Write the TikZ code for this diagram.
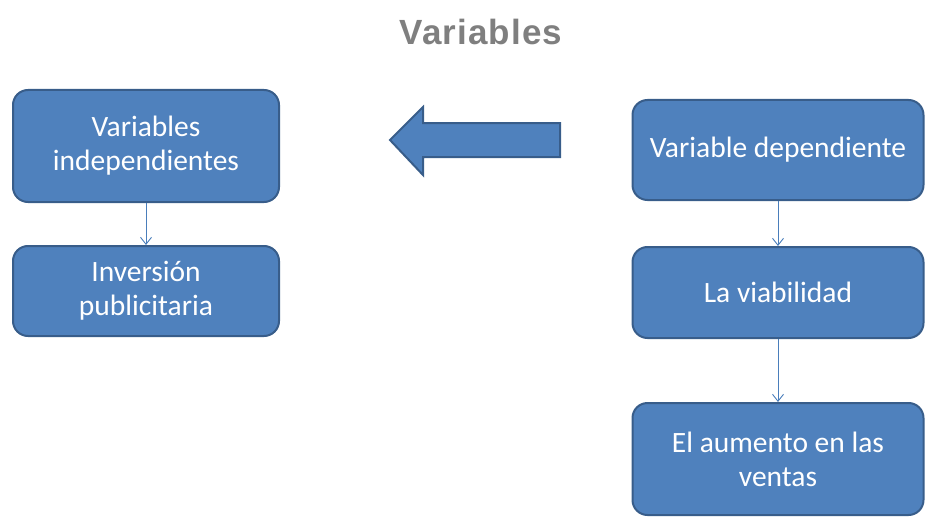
\documentclass[tikz,border=0pt]{standalone}
\usepackage{fontspec}
\setmainfont{Carlito}
\newfontfamily\titlefont[LetterSpace=3]{Liberation Sans}
\usetikzlibrary{arrows.meta}
\definecolor{boxfill}{HTML}{4F81BD}
\definecolor{boxline}{HTML}{385D8A}
\definecolor{linkc}{HTML}{4A7EBB}
\definecolor{titlec}{HTML}{7F7F7F}
\begin{document}
\begin{tikzpicture}[x=1pt,y=-1pt,
  vbox/.style={draw=boxline,line width=2pt,fill=boxfill,rounded corners=15pt,
    text=white,align=center,font=\fontsize{29.5}{34}\selectfont,inner sep=0pt},
  link/.style={draw=linkc,line width=0.9pt,-{Straight Barb[length=7pt,width=11pt]}}]
\useasboundingbox (0,0) rectangle (927,519);
\node[font=\titlefont\bfseries\fontsize{35}{40}\selectfont,text=titlec] (title) at (481,32) {Variables};
\node[vbox,minimum width=266pt,minimum height=112pt] (vi) at (146,146) {Variables\\independientes};
\node[vbox,minimum width=266pt,minimum height=90pt] (ip) at (146,291) {Inversión\\publicitaria};
\node[vbox,minimum width=291pt,minimum height=100pt] (vd) at (778,150) {Variable dependiente};
\node[vbox,minimum width=291pt,minimum height=91pt] (lv) at (778,292.5) {La viabilidad};
\node[vbox,minimum width=291pt,minimum height=112pt] (av) at (778,459) {El aumento en las\\ventas};
\draw[link] (vi) -- (ip);
\draw[link] (vd) -- (lv);
\draw[link] (lv) -- (av);
\draw[draw=boxline,line width=2pt,fill=boxfill,line join=miter]
  (390,140) -- (423,107) -- (423,123) -- (560,123) -- (560,157) -- (423,157) -- (423,175) -- cycle;
\end{tikzpicture}
\end{document}
